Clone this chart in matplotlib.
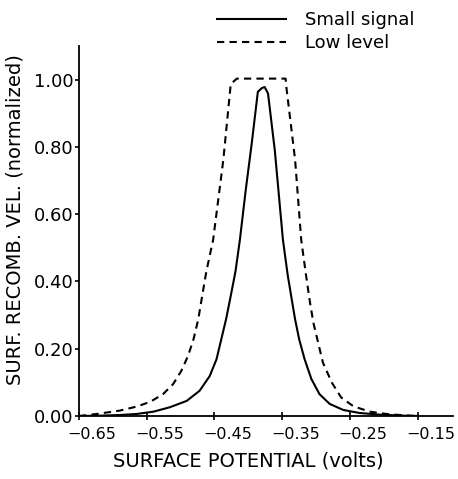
import matplotlib.pyplot as plt
import matplotlib.transforms as mtransforms

# Small signal curve
x_small = [-0.65, -0.62, -0.590, -0.565, -0.540, -0.516, -0.491, -0.472, -0.457,
           -0.447, -0.440, -0.433, -0.427, -0.419, -0.4125, -0.404, -0.395, -0.386,
           -0.380, -0.376, -0.371, -0.361, -0.349, -0.342, -0.336, -0.331, -0.325,
           -0.317, -0.307, -0.295, -0.280, -0.260, -0.236, -0.206, -0.17, -0.15]
y_small = [0.0, 0.001, 0.003, 0.006, 0.013, 0.026, 0.045, 0.075, 0.119,
           0.169, 0.228, 0.287, 0.347, 0.43, 0.524, 0.67, 0.811, 0.964,
           0.975, 0.978, 0.959, 0.79, 0.524, 0.42, 0.347, 0.287, 0.228,
           0.169, 0.110, 0.065, 0.036, 0.018, 0.009, 0.004, 0.001, 0.0]

# Low level curve
x_low = [-0.65, -0.624, -0.590, -0.565, -0.545, -0.526, -0.511, -0.499, -0.489,
         -0.481, -0.474, -0.469, -0.462, -0.452, -0.437, -0.426, -0.417, -0.345,
         -0.344, -0.331, -0.322, -0.315, -0.309, -0.304, -0.297, -0.290, -0.277,
         -0.263, -0.245, -0.221, -0.196, -0.17, -0.15]
y_low = [0.0, 0.006, 0.016, 0.028, 0.042, 0.065, 0.095, 0.134, 0.179,
         0.228, 0.287, 0.347, 0.43, 0.524, 0.761, 0.987, 1.003, 1.003,
         0.979, 0.761, 0.524, 0.42, 0.337, 0.277, 0.218, 0.159, 0.100,
         0.055, 0.029, 0.013, 0.006, 0.002, 0.0]

x_ticks = [-0.65, -0.55, -0.45, -0.35, -0.25, -0.15]
y_ticks = [0.0, 0.2, 0.4, 0.6, 0.8, 1.0]

fig = plt.figure(figsize=(4.58, 4.79), dpi=100)
ax = fig.add_axes([0.1725, 0.1315, 0.8165, 0.7725])

ax.plot(x_small, y_small, color="black", lw=1.5, label="Small signal")
ax.plot(x_low, y_low, color="black", lw=1.5, dashes=(3.5, 2.5), label="Low level")

ax.set_xlim(-0.65, -0.098)
ax.set_ylim(0, 1.10)

ax.spines["top"].set_visible(False)
ax.spines["right"].set_visible(False)
ax.spines["left"].set_linewidth(1.3)
ax.spines["bottom"].set_linewidth(1.3)

ax.set_xticks(x_ticks)
ax.set_xticklabels(["\u22120.65", "\u22120.55", "\u22120.45", "\u22120.35", "\u22120.25", "\u22120.15"])
ax.set_yticks(y_ticks)
ax.set_yticklabels(["0.00", "0.20", "0.40", "0.60", "0.80", "1.00"])

ax.tick_params(axis="x", direction="inout", length=6, width=1.2, labelsize=11.5, pad=5)
ax.tick_params(axis="y", direction="out", length=3, width=1.2, labelsize=13, pad=1)

# labels in the original sit right of their ticks
shift = mtransforms.ScaledTranslation(9.5 / 72, 0, fig.dpi_scale_trans)
for lab in ax.get_xticklabels():
    lab.set_transform(lab.get_transform() + shift)

ax.set_xlabel("SURFACE POTENTIAL (volts)", fontsize=14)
ax.xaxis.set_label_coords(0.452, -0.095)
ax.set_ylabel("SURF. RECOMB. VEL. (normalized)", fontsize=14)
ax.yaxis.set_label_coords(-0.145, 0.53)

ax.legend(loc="upper left", bbox_to_anchor=(0.45, 1.0), bbox_transform=fig.transFigure,
          frameon=False, fontsize=13, handlelength=3.8, handletextpad=1.1,
          labelspacing=0.3, borderaxespad=0.2)

plt.savefig("out.png", dpi=100)
